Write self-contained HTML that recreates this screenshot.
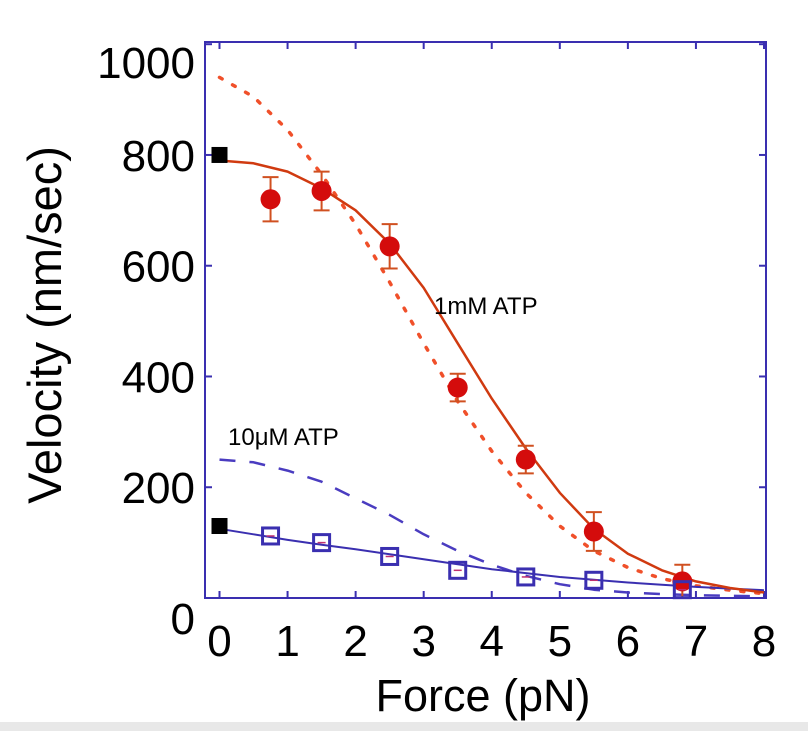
<!DOCTYPE html>
<html><head><meta charset="utf-8"><style>
html,body{margin:0;padding:0;background:#fff;width:808px;height:731px;overflow:hidden}
svg{display:block;font-family:"Liberation Sans",Arial,sans-serif}
</style></head><body>
<svg id="chart" width="808" height="731">
<rect x="0" y="722" width="808" height="9" fill="#e8e8e8"/>
</svg>
<script>
const xTicks=[0,1,2,3,4,5,6,7,8];
const yTicks=[0,200,400,600,800,1000];
const redForce=[0.75,1.5,2.5,3.5,4.5,5.5,6.8];
const redVel=[720,735,635,380,250,120,30];
const redErr=[40,35,40,25,25,35,30];
const blueForce=[0.75,1.5,2.5,3.5,4.5,5.5,6.8];
const blueVel=[112,100,75,50,38,32,15];
const blackForce=[0,0];
const blackVel=[800,130];
const curveX=[0,0.5,1,1.5,2,2.5,3,3.5,4,4.5,5,5.5,6,6.5,7,7.5,8];
const redFit=[790,785,770,740,700,640,560,460,360,270,190,125,80,50,30,18,10];
const redDotted=[940,905,845,765,675,570,460,355,265,190,130,85,55,35,22,14,8];
const blueDashed=[250,245,230,210,180,150,115,85,60,40,25,15,10,7,5,4,3];
const blueFit=[125,115,105,96,88,79,70,61,52,45,38,33,28,24,20,17,14];

const svg=document.getElementById('chart');
const NS='http://www.w3.org/2000/svg';
const L=205,R=766,T=42,B=598;
const X=v=>219.5+v*(764-219.5)/8;
const Y=v=>598-v*0.5538;
function mk(tag,attrs,parent){const e=document.createElementNS(NS,tag);for(const k in attrs)e.setAttribute(k,attrs[k]);(parent||svg).appendChild(e);return e;}
const BLUE='#3a2fb0';

const frame=mk('rect',{x:L,y:T,width:R-L,height:B-T,fill:'none',stroke:BLUE,'stroke-width':2});



xTicks.forEach(t=>{
  const a=mk('line',{x1:X(t),x2:X(t),y1:B,y2:B-7,stroke:BLUE,'stroke-width':2});
  
  
  const b=mk('line',{x1:X(t),x2:X(t),y1:T,y2:T+7,stroke:BLUE,'stroke-width':2});
  
  
  const tx=mk('text',{x:X(t),y:656,'font-size':44,'text-anchor':'middle',fill:'#000'});
  tx.textContent=t;
  
  
});
yTicks.forEach(t=>{
  const a=mk('line',{x1:L,x2:L+7,y1:Y(t),y2:Y(t),stroke:BLUE,'stroke-width':2});
  
  
  const b=mk('line',{x1:R,x2:R-7,y1:Y(t),y2:Y(t),stroke:BLUE,'stroke-width':2});
  
  
  const yy=t===0?634:(t===1000?78:Y(t)+16);
  const tx=mk('text',{x:195,y:yy,'font-size':44,'text-anchor':'end',fill:'#000'});
  tx.textContent=t;
  
  
});

function curve(vals,attrs,name){
  const d=curveX.map((x,i)=>(i?'L':'M')+X(x).toFixed(1)+','+Y(vals[i]).toFixed(1)).join(' ');
  const p=mk('path',Object.assign({d:d,fill:'none','stroke-linejoin':'round'},attrs));
  
  
}
curve(redDotted,{stroke:'#f0502a','stroke-width':3.5,'stroke-dasharray':'3 12','stroke-linecap':'round'},'red-dotted-curve');
curve(blueDashed,{stroke:'#4a3cc0','stroke-width':2.5,'stroke-dasharray':'16 14'},'blue-dashed-curve');
curve(blueFit,{stroke:BLUE,'stroke-width':2},'blue-fit-curve');
curve(redFit,{stroke:'#d03a10','stroke-width':2.5},'red-fit-curve');

redForce.forEach((f,i)=>{
  const x=X(f),y=Y(redVel[i]),e=redErr[i]*0.5538;
  const g=mk('g',{stroke:'#d05020','stroke-width':2});
  
  
  mk('line',{x1:x,x2:x,y1:y-e,y2:y+e},g);
  mk('line',{x1:x-8,x2:x+8,y1:y-e,y2:y-e},g);
  mk('line',{x1:x-8,x2:x+8,y1:y+e,y2:y+e},g);
  const c=mk('circle',{cx:x,cy:y,r:10,fill:'#d40c0c'});
  
  
});
blueForce.forEach((f,i)=>{
  const x=X(f),y=Y(blueVel[i]);
  const r=mk('rect',{x:x-8,y:y-8,width:16,height:16,fill:'none',stroke:BLUE,'stroke-width':3});
  
  
  const l=mk('line',{x1:x-4,x2:x+4,y1:y,y2:y,stroke:'#c03070','stroke-width':1.5});
  
  
});
blackForce.forEach((f,i)=>{
  const r=mk('rect',{x:X(f)-8,y:Y(blackVel[i])-8,width:16,height:16,fill:'#000'});
  
  
});

const t1=mk('text',{x:434,y:314,'font-size':24,fill:'#000'});t1.textContent='1mM ATP';


const t2=mk('text',{x:228,y:445,'font-size':24,fill:'#000'});t2.textContent='10\u03bcM ATP';


const xl=mk('text',{x:483,y:711,'font-size':45,'text-anchor':'middle',fill:'#000'});xl.textContent='Force (pN)';


const yl=mk('text',{x:0,y:0,'font-size':47,'text-anchor':'middle',fill:'#000',transform:'translate(61,325) rotate(-90)'});yl.textContent='Velocity (nm/sec)';


</script>
</body></html>
